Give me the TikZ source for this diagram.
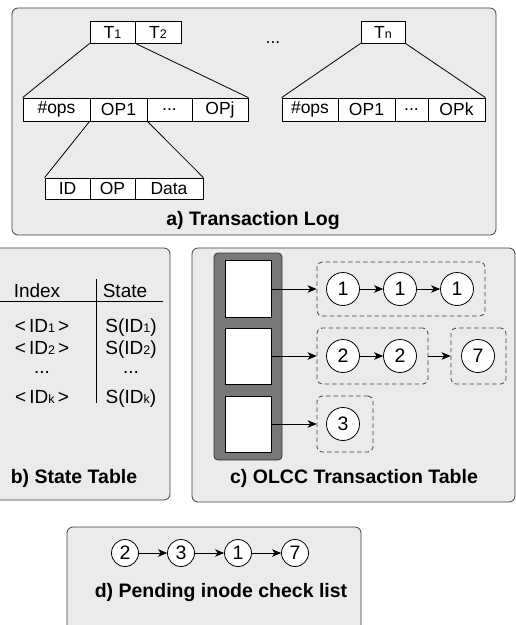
\documentclass[tikz,border=0pt]{standalone}
\usepackage{fontspec}
\setmainfont{Liberation Sans}
\usetikzlibrary{arrows.meta}
\newcommand{\smd}[1]{{\fontsize{12.5}{12}\selectfont #1}}
\tikzset{
  panel/.style={fill=black!8, draw=black!75, line width=0.8pt, rounded corners=6pt},
  cell/.style={draw=black, fill=white, line width=0.8pt, inner sep=0pt, font=\fontsize{17.5}{20}\selectfont},
  ttl/.style={font=\fontsize{19.5}{22}\selectfont\bfseries, inner sep=0pt},
  btxt/.style={font=\fontsize{19}{21}\selectfont, inner sep=0pt},
  circ/.style={circle, draw=black, fill=white, line width=0.8pt, minimum size=33pt, inner sep=0pt, font=\fontsize{19.5}{20}\selectfont},
  circd/.style={circ, minimum size=27pt},
  dbox/.style={draw=black!75, dash pattern=on 4.5pt off 3pt, line width=0.8pt, rounded corners=5pt, inner sep=0pt},
  arr/.style={-{Stealth[length=9pt,width=7.5pt,inset=2.5pt]}, line width=0.8pt},
  conn/.style={line width=0.8pt}
}
\begin{document}
\begin{tikzpicture}[x=1pt,y=-1pt]
\useasboundingbox (0,0) rectangle (516,625);
% panels
\draw[panel] (12,8) rectangle (496,235);
\draw[panel] (-10,248) rectangle (170,500);
\draw[panel] (192,248) rectangle (515,502);
\draw[panel] (67,527) rectangle (361,640);

% a) transaction log
\node[cell, minimum width=45pt, minimum height=22pt] (t1) at (112.5,32) {T\smd{1}};
\node[cell, minimum width=46pt, minimum height=22pt] (t2) at (158,32) {T\smd{2}};
\node[cell, minimum width=44pt, minimum height=22pt] (tn) at (383,32) {T\smd{n}};
\node[inner sep=0pt, anchor=base, font=\fontsize{17.5}{20}\selectfont] (dots) at (273,43) {...};

\node[cell, minimum width=67pt, minimum height=23pt] (opsa) at (56.5,109.5) {\#ops};
\node[cell, minimum width=57pt, minimum height=23pt] (op1a) at (118.5,109.5) {OP1};
\node[cell, minimum width=45pt, minimum height=23pt] (dta) at (169.5,109.5) {...};
\node[cell, minimum width=56pt, minimum height=23pt] (opj) at (220,109.5) {OPj};

\node[cell, minimum width=56pt, minimum height=23pt] (opsb) at (310,109.5) {\#ops};
\node[cell, minimum width=57pt, minimum height=23pt] (op1b) at (366.5,109.5) {OP1};
\node[cell, minimum width=33pt, minimum height=23pt] (dtb) at (411.5,109.5) {...};
\node[cell, minimum width=57pt, minimum height=23pt] (opk) at (456.5,109.5) {OPk};

\node[cell, minimum width=45pt, minimum height=21pt] (id) at (67.5,188.5) {ID};
\node[cell, minimum width=45pt, minimum height=21pt] (op) at (112.5,188.5) {OP};
\node[cell, minimum width=68pt, minimum height=21pt] (data) at (169,188.5) {Data};

\draw[conn] (t1.south west) -- (opsa.north west);
\draw[conn] (t1.south east) -- (opj.north east);
\draw[conn] (tn.south west) -- (opsb.north west);
\draw[conn] (tn.south east) -- (opk.north east);
\draw[conn] (op1a.south west) -- (id.north west);
\draw[conn] (op1a.south east) -- (data.north east);

\node[ttl] (ta) at (253,220) {a) Transaction Log};

% b) state table
\coordinate (hl) at (-5,301);
\coordinate (hr) at (163,301);
\coordinate (vt) at (96,279);
\coordinate (vb) at (96,403);
\draw[conn] (hl) -- (hr);
\draw[conn] (vt) -- (vb);
\node[btxt] (idx) at (37,291) {Index};
\node[btxt] (st) at (125,291) {State};
\node[btxt, anchor=base] (r1) at (42,332) {<\,ID\smd{1}\,>};
\node[btxt, anchor=base] (r2) at (42,354) {<\,ID\smd{2}\,>};
\node[btxt, anchor=base] (r3) at (42,373) {...};
\node[btxt, anchor=base] (r4) at (42,403) {<\,ID\smd{k}\,>};
\node[btxt, anchor=base] (s1t) at (131,332) {S(ID\smd{1})};
\node[btxt, anchor=base] (s2t) at (131,354) {S(ID\smd{2})};
\node[btxt, anchor=base] (s3t) at (131,373) {...};
\node[btxt, anchor=base] (s4t) at (131,403) {S(ID\smd{k})};
\node[ttl] (tb) at (74,478) {b) State Table};

% c) OLCC transaction table
\draw[fill=black!53, draw=black!80, line width=0.8pt, rounded corners=4pt] (214,253) rectangle (282,460);
\node[cell, minimum width=46pt, minimum height=57pt] (sq1) at (248,288.5) {};
\node[cell, minimum width=46pt, minimum height=56pt] (sq2) at (248,356) {};
\node[cell, minimum width=46pt, minimum height=56pt] (sq3) at (248,424) {};

\node[dbox, minimum width=168pt, minimum height=54pt] (d1) at (401,289) {};
\node[dbox, minimum width=111pt, minimum height=56pt] (d2) at (372.5,356) {};
\node[dbox, minimum width=55pt, minimum height=56pt] (d7) at (478.5,356) {};
\node[dbox, minimum width=56pt, minimum height=56pt] (d3) at (345,424) {};

\node[circ] (c11) at (343,289) {1};
\node[circ] (c12) at (400,289) {1};
\node[circ] (c13) at (457,289) {1};
\node[circ] (c21) at (343,356) {2};
\node[circ] (c22) at (400,356) {2};
\node[circ] (c7) at (478,356) {7};
\node[circ] (c3) at (343,424) {3};

\draw[arr] (sq1.east |- d1.west) -- (d1.west);
\draw[arr] (sq2.east |- d2.west) -- (d2.west);
\draw[arr] (sq3.east |- d3.west) -- (d3.west);
\draw[arr] (c11) -- (c12);
\draw[arr] (c12) -- (c13);
\draw[arr] (c21) -- (c22);
\draw[arr] (d2.east) -- (d7.west);

\node[ttl] (tc) at (354,478) {c) OLCC Transaction Table};

% d) pending inode check list
\node[circd] (p1) at (125,553) {2};
\node[circd] (p2) at (181,553) {3};
\node[circd] (p3) at (238,553) {1};
\node[circd] (p4) at (295,553) {7};
\draw[arr] (p1) -- (p2);
\draw[arr] (p2) -- (p3);
\draw[arr] (p3) -- (p4);
\node[ttl] (td) at (221,592) {d) Pending inode check list};
\end{tikzpicture}
\end{document}
